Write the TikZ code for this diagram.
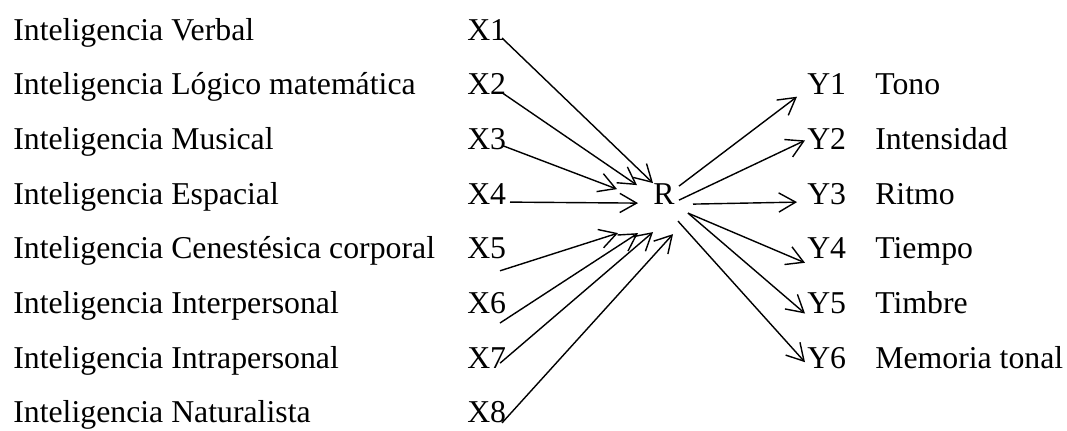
\documentclass[tikz,border=0pt]{standalone}
\usepackage{fontspec}
\setmainfont{Liberation Serif}
\usetikzlibrary{arrows.meta}

\begin{document}
\begin{tikzpicture}[
    x=0.025cm, y=-0.025cm,
    txt/.style={inner sep=0pt, anchor=base west, font=\fontsize{22.6}{27}\selectfont},
    arrow/.style={-{Straight Barb[length=0.42cm, width=0.48cm]}, line width=1pt}
]
\useasboundingbox (0,0) rectangle (1067,430);

% independent variables
\foreach \i/\name in {1/Verbal, 2/Lógico matemática, 3/Musical, 4/Espacial,
                      5/Cenestésica corporal, 6/Interpersonal, 7/Intrapersonal, 8/Naturalista} {
  \node[txt] (int\i) at (13, {40+54.7*(\i-1)}) {Inteligencia \name};
  \node[txt] (x\i) at (467, {40+54.7*(\i-1)}) {X\i};
}

\node[txt, anchor=base] (r) at (664, 204.1) {R};

% dependent variables
\foreach \j/\name in {1/Tono, 2/Intensidad, 3/Ritmo, 4/Tiempo, 5/Timbre, 6/Memoria tonal} {
  \node[txt] (y\j) at (807, {40+54.7*\j}) {Y\j};
  \node[txt] (dim\j) at (875, {40+54.7*\j}) {\name};
}

\foreach \i/\a/\b/\c/\d in {1/35/-2/-11/-21, 2/35/-2/-27/-19, 3/35/-4/-47/-15, 4/43/-2/-26/-1,
                            5/33/12/-46/29, 6/33/9.5/-26/29, 7/33/-5/-11/28, 8/35/0/9/30}
  \draw[arrow] ([shift={(\a,\b)}]x\i.base west) -- ([shift={(\c,\d)}]r.base);

\foreach \j/\a/\b/\c/\d in {1/15/-18/-10/2, 2/15/-4/-2/-9, 3/29/0/-10/-2,
                            4/24/9/-2/4, 5/24/9/-2/0, 6/14/17/-2/-6}
  \draw[arrow] ([shift={(\a,\b)}]r.base) -- ([shift={(\c,\d)}]y\j.base west);

\end{tikzpicture}
\end{document}
